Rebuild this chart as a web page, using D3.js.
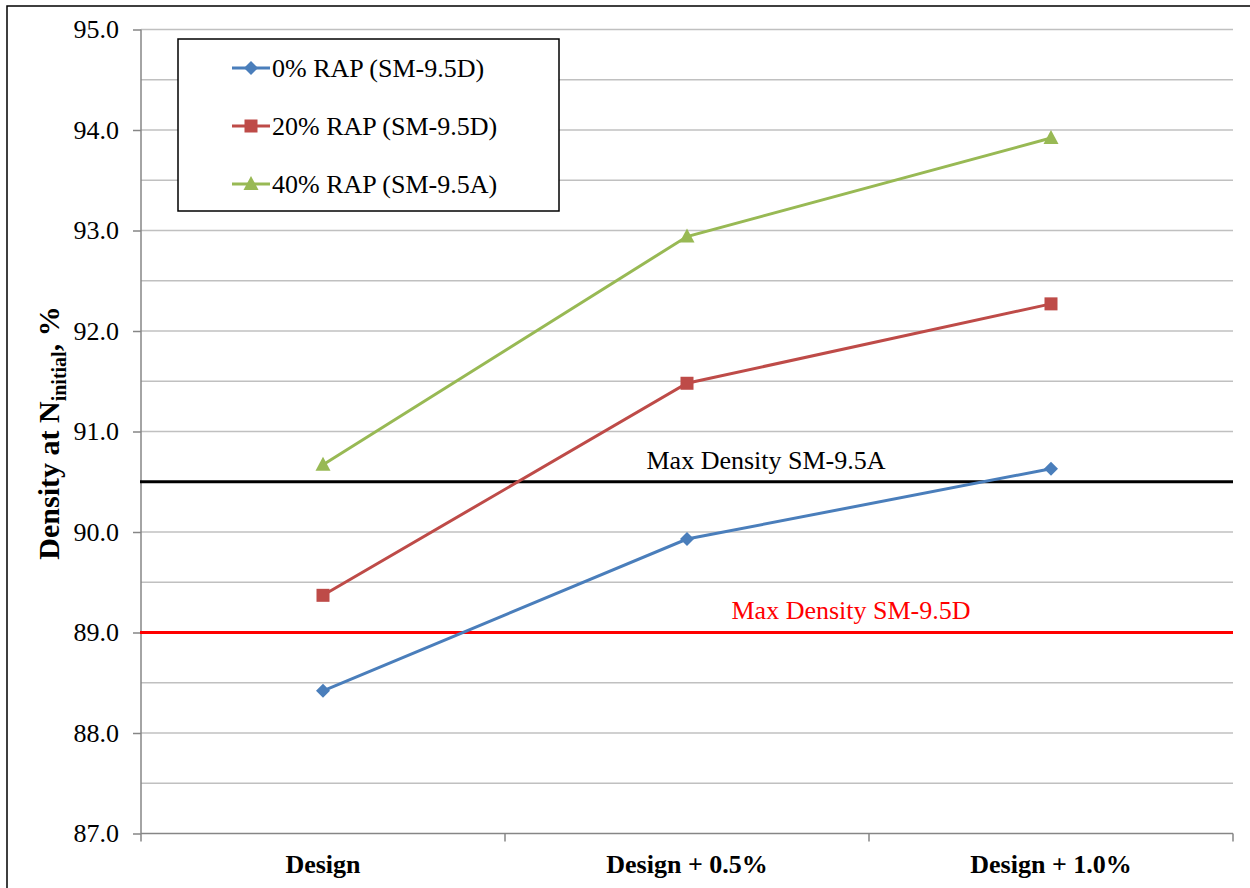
<!DOCTYPE html>
<html><head><meta charset="utf-8">
<script src="https://cdn.jsdelivr.net/npm/d3@7"></script>
<style>body{margin:0;background:#fff}svg{display:block}svg text{font-family:"Liberation Serif","Times New Roman","DejaVu Serif",serif !important}</style>
</head><body>
<svg id="c" width="1250" height="888"></svg>
<script>
const categories = ["Design", "Design + 0.5%", "Design + 1.0%"];
const seriesNames = ["0% RAP (SM-9.5D)", "20% RAP (SM-9.5D)", "40% RAP (SM-9.5A)"];
const rap0 = [88.42, 89.93, 90.63];
const rap20 = [89.37, 91.48, 92.27];
const rap40 = [90.67, 92.94, 93.92];
const seriesColors = ["#4a7ebb", "#be4b48", "#98b954"];
const seriesMarkers = ["diamond", "square", "triangle"];
const yTicks = [87, 88, 89, 90, 91, 92, 93, 94, 95];
const refValues = [90.5, 89.0];
const refLabels = ["Max Density SM-9.5A", "Max Density SM-9.5D"];
const refColors = ["#000000", "#ff0000"];

const svg = d3.select("#c");
const L = 141, R = 1233, T = 29.5, B = 833.5;
const x = d3.scaleBand().domain(categories).range([L, R]);
const y = d3.scaleLinear().domain([87, 95]).range([B, T]);

svg.append("rect").attr("x", 7).attr("y", 6).attr("width", 1260).attr("height", 900)
  .attr("fill", "none").attr("stroke", "#000").attr("stroke-width", 1.5);

const grid = d3.range(87.5, 95.01, 0.5);
svg.append("g").selectAll("line").data(grid).join("line")
  .attr("x1", L).attr("x2", R).attr("y1", d => y(d)).attr("y2", d => y(d))
  .attr("stroke", "#c0c0c0").attr("stroke-width", 1.5);

const yAxis = d3.axisLeft(y).tickValues(yTicks).tickFormat(d3.format(".1f")).tickSize(8).tickPadding(14);
const gy = svg.append("g").attr("transform", `translate(${L},0)`).call(yAxis);
gy.attr("font-family", null);
gy.select(".domain").attr("stroke", "#868686").attr("stroke-width", 1.5).attr("d", `M0,${T}V${B}`);
gy.selectAll(".tick line").attr("stroke", "#868686").attr("stroke-width", 1.5);
gy.selectAll(".tick text").attr("font-size", 26).attr("fill", "#000");

const xAxis = d3.axisBottom(x).tickSize(0).tickPadding(21);
const gx = svg.append("g").attr("transform", `translate(0,${B})`).call(xAxis);
gx.attr("font-family", null);
gx.select(".domain").attr("stroke", "#868686").attr("stroke-width", 1.5).attr("d", `M${L},0H${R}`);
gx.selectAll(".tick text").attr("font-size", 26).attr("font-weight", "bold").attr("fill", "#000");
const bounds = categories.map(c => x(c)).concat([R]);
gx.append("g").selectAll("line").data(bounds).join("line")
  .attr("x1", d => d).attr("x2", d => d).attr("y1", 0).attr("y2", 8)
  .attr("stroke", "#868686").attr("stroke-width", 1.5);

refValues.forEach((v, i) => {
  svg.append("line").attr("x1", L - 1).attr("x2", R).attr("y1", y(v)).attr("y2", y(v))
    .attr("stroke", refColors[i]).attr("stroke-width", 3);
});
svg.append("text").attr("x", 766).attr("y", y(refValues[0]) - 13).attr("text-anchor", "middle")
  .attr("font-size", 26).attr("fill", refColors[0]).text(refLabels[0]);
svg.append("text").attr("x", 851).attr("y", y(refValues[1]) - 14).attr("text-anchor", "middle")
  .attr("font-size", 26).attr("fill", refColors[1]).text(refLabels[1]);

const data = [rap0, rap20, rap40];
const cx = c => x(c) + x.bandwidth() / 2;
const line = d3.line().x((d, i) => cx(categories[i])).y(d => y(d));
function marker(g, type, color, px, py) {
  if (type === "diamond") {
    g.append("path").attr("d", `M${px},${py-7}L${px+7},${py}L${px},${py+7}L${px-7},${py}Z`).attr("fill", color);
  } else if (type === "square") {
    g.append("rect").attr("x", px - 6.5).attr("y", py - 6.5).attr("width", 13).attr("height", 13).attr("fill", color);
  } else {
    g.append("path").attr("d", `M${px},${py-8}L${px+7.5},${py+6}L${px-7.5},${py+6}Z`).attr("fill", color);
  }
}
data.forEach((vals, s) => {
  const g = svg.append("g");
  g.append("path").attr("d", line(vals)).attr("fill", "none").attr("stroke", seriesColors[s]).attr("stroke-width", 3);
  vals.forEach((v, i) => marker(g, seriesMarkers[s], seriesColors[s], cx(categories[i]), y(v)));
});

const lg = svg.append("g");
lg.append("rect").attr("x", 178).attr("y", 39).attr("width", 381).attr("height", 172)
  .attr("fill", "#fff").attr("stroke", "#000").attr("stroke-width", 1.5);
seriesNames.forEach((n, i) => {
  const ly = 68 + i * 58;
  lg.append("line").attr("x1", 232).attr("x2", 270).attr("y1", ly).attr("y2", ly)
    .attr("stroke", seriesColors[i]).attr("stroke-width", 3);
  marker(lg, seriesMarkers[i], seriesColors[i], 251, ly);
  lg.append("text").attr("x", 272).attr("y", ly + 9).attr("font-size", 26).text(n);
});

const yt = svg.append("text").attr("transform", "translate(59,433) rotate(-90)")
  .attr("text-anchor", "middle").attr("font-size", 30).attr("font-weight", "bold");
yt.append("tspan").text("Density at N");
yt.append("tspan").attr("font-size", 20).attr("dy", 7).text("initial");
yt.append("tspan").attr("dy", -7).text(", %");
</script>
</body></html>
